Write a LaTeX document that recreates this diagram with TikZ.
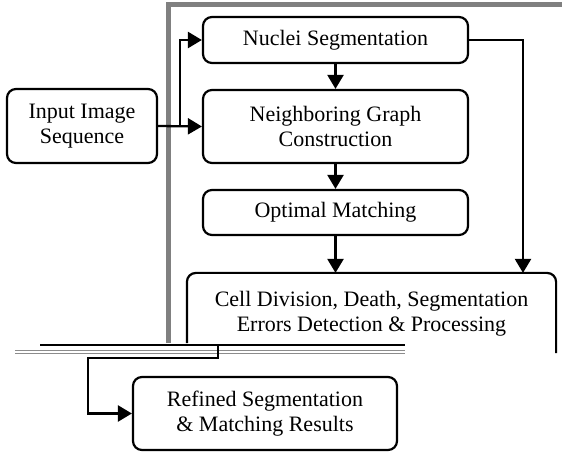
\documentclass[tikz,border=0pt]{standalone}
\usepackage{fontspec}
\setmainfont{Liberation Serif}
\usetikzlibrary{arrows.meta}
\begin{document}
\begin{tikzpicture}[x=1pt,y=-1pt,
  boxline/.style={line width=2.2pt, rounded corners=9pt},
  stage/.style={boxline, draw, align=center, inner sep=0pt,
    font=\fontsize{22}{25.5}\selectfont},
  conn/.style={line width=2.3pt},
  arr/.style={conn, -{Triangle[length=14pt,width=16pt]}},
  frameline/.style={line width=5pt, color=black!50},
  noise/.style={line width=0.7pt, color=black!45}]
\useasboundingbox (0,0) rectangle (562,454);

% grey frame around the processing loop
\draw[frameline] (168,343) -- (168,4.5) -- (562,4.5);

% stages
\node[stage, minimum width=150pt, minimum height=74pt] (inp) at (82,126)
  {Input Image\\Sequence};
\node[stage, minimum width=265pt, minimum height=46pt] (nuc) at (335.5,40)
  {Nuclei Segmentation};
\node[stage, minimum width=265pt, minimum height=73pt] (ngc) at (335.5,126.5)
  {Neighboring Graph\\Construction};
\node[stage, minimum width=265pt, minimum height=45pt] (opt) at (335.5,212.5)
  {Optimal Matching};
\node[stage, draw=none, minimum width=367pt, minimum height=79pt] (cell) at (371.5,313.5)
  {Cell Division, Death, Segmentation\\Errors Detection \& Processing};
\node[stage, minimum width=264pt, minimum height=73pt] (ref) at (265,413.5)
  {Refined Segmentation\\\& Matching Results};

% open outline of the detection stage (its lower edge is lost in the band)
\coordinate (bandtop) at (0,343);
\draw[boxline] (cell.west |- bandtop) |- (cell.north) -| ([yshift=-10pt]cell.east |- bandtop);

% connectors
\coordinate (split) at (180,126);
\draw[arr] (inp.east) -- (ngc.west);
\draw[arr] (split) |- (nuc.west);
\draw[arr] (nuc.south) -- (ngc.north);
\draw[arr] (ngc.south) -- (opt.north);
\draw[arr] (opt.south) -- (opt.south |- cell.north);
\coordinate (rcol) at (523,40);
\draw[arr] (nuc.east) -- (rcol) -- (rcol |- cell.north);

% band across the lower part
\draw[line width=1.8pt] (40,345) -- (405,345);
\draw[noise] (15,350) -- (405,350);
\draw[noise] (15,353.5) -- (405,353.5);

% hand-off to the refined results
\coordinate (drop) at (218,344);
\coordinate (elbow) at (88,358);
\draw[arr] (drop) |- (elbow) |- (ref.west);
\end{tikzpicture}
\end{document}
